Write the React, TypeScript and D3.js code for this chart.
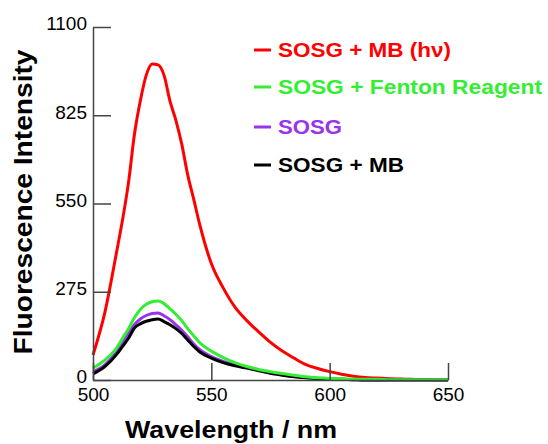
import { useEffect, useRef } from 'react';
import * as d3 from 'd3';

// wavelength grid (nm)
const wavelength = [500, 505, 510, 512.5, 515, 517.5, 520, 522.5, 525, 527.5, 530, 532.5, 535, 537.5, 540, 542.5, 545,
    550, 555, 560, 565, 570, 575, 580, 585, 590, 595, 600, 605, 610, 615, 620, 625, 630, 635, 640, 645, 650];

// fluorescence intensity per series
const sosgMbLight = [78, 210, 400, 500, 615, 765, 870, 950, 985, 982, 950, 870, 810, 735, 640, 565, 487,
    363, 287, 227, 185, 150, 117, 90, 68, 48, 36, 26, 18, 12, 8, 6, 4, 3, 2, 1.5, 1, 1];
const sosgFenton = [37, 62, 100, 130, 160, 194, 220, 236, 244, 246, 238, 222, 205, 185, 160, 138, 117,
    90, 70, 54, 42, 33, 26, 20, 15, 10, 7, 5, 4, 3, 2, 2, 1, 1, 1, 1, 1, 1];
const sosg = [25, 47, 88, 115, 145, 172, 190, 201, 207, 209, 200, 188, 172, 155, 135, 113, 95,
    73, 58, 47, 39, 30, 22, 16, 11, 8, 5, 3, 2, 1, 0, 0, 0, 0, 0, 0, 0, 0];
const sosgMb = [19, 42, 80, 105, 130, 162, 175, 183, 188, 190, 182, 172, 160, 145, 125, 105, 88,
    68, 54, 44, 37, 29, 21, 15, 10, 7, 5, 3, 2, 1, 0, 0, 0, 0, 0, 0, 0, 0];

const legendLabels = ['SOSG + MB (h\u03bd)', 'SOSG + Fenton Reagent', 'SOSG', 'SOSG + MB'];
const legendColors = ['#ff0000', '#33ee33', '#9933ee', '#000000'];
const legendWidths = [173, 264, 64, 126];

const yTicks = [0, 275, 550, 825, 1100];
const xTicks = [500, 550, 600, 650];

const FONT = '"Liberation Sans", Arial, sans-serif';

const App = () => {
    const svgRef = useRef<SVGSVGElement>(null);

    useEffect(() => {
        const svg = d3.select(svgRef.current);
        svg.selectAll('*').remove();

        const x = d3.scaleLinear().domain([500, 650]).range([93, 448]);
        const y = d3.scaleLinear().domain([0, 1100]).range([380, 27]);

        // series, drawn so that green sits on top like the original
        const series = [
            { values: sosgMbLight, color: legendColors[0] },
            { values: sosg, color: legendColors[2] },
            { values: sosgMb, color: legendColors[3] },
            { values: sosgFenton, color: legendColors[1] },
        ];
        const line = d3.line<number>()
            .x((_, i) => x(wavelength[i]))
            .y(d => y(d))
            .curve(d3.curveMonotoneX);

        svg.append('g').selectAll('path')
            .data(series)
            .enter().append('path')
            .attr('d', s => line(s.values))
            .attr('fill', 'none')
            .attr('stroke', s => s.color)
            .attr('stroke-width', 3)
            .attr('stroke-linejoin', 'round');

        // axes, ticks pointing inward
        const yAxis = d3.axisLeft(y).tickValues(yTicks).tickFormat(d3.format('d'))
            .tickSize(-18).tickSizeOuter(0).tickPadding(6);
        const xAxis = d3.axisBottom(x).tickValues(xTicks).tickFormat(d3.format('d'))
            .tickSize(-17).tickSizeOuter(0).tickPadding(8);

        const gy = svg.append('g').attr('transform', 'translate(93,0)').call(yAxis);
        const gx = svg.append('g').attr('transform', 'translate(0,380)').call(xAxis);
        [gy, gx].forEach(g => {
            g.selectAll('path, line').attr('stroke', '#444').attr('stroke-width', 1.5);
            g.selectAll('text')
                .attr('fill', '#000')
                .style('font-family', FONT)
                .style('font-size', '19px');
        });
        gy.selectAll('text').attr('dy', '0.15em');

        // axis titles
        svg.append('text')
            .attr('transform', 'translate(32,202) rotate(-90)')
            .attr('text-anchor', 'middle')
            .attr('textLength', 305)
            .attr('lengthAdjust', 'spacingAndGlyphs')
            .style('font-family', FONT)
            .style('font-size', '26px')
            .style('font-weight', 'bold')
            .text('Fluorescence Intensity');

        svg.append('text')
            .attr('x', 231)
            .attr('y', 438)
            .attr('text-anchor', 'middle')
            .attr('textLength', 212)
            .attr('lengthAdjust', 'spacingAndGlyphs')
            .style('font-family', FONT)
            .style('font-size', '23px')
            .style('font-weight', 'bold')
            .text('Wavelength / nm');

        // legend
        const legendY = [50, 87, 127, 165];
        const legend = svg.append('g');
        legendLabels.forEach((label, i) => {
            legend.append('line')
                .attr('x1', 254).attr('x2', 271)
                .attr('y1', legendY[i]).attr('y2', legendY[i])
                .attr('stroke', legendColors[i])
                .attr('stroke-width', 3);
            legend.append('text')
                .attr('x', 278)
                .attr('y', legendY[i] + 7)
                .attr('fill', legendColors[i])
                .attr('textLength', legendWidths[i])
                .attr('lengthAdjust', 'spacingAndGlyphs')
                .style('font-family', FONT)
                .style('font-size', '19.5px')
                .style('font-weight', 'bold')
                .text(label);
        });
    }, []);

    return (
        <svg
            ref={svgRef}
            width={548}
            height={444}
            style={{ position: 'absolute', left: 0, top: 0, background: '#fff' }}
        />
    );
};

export default App;
